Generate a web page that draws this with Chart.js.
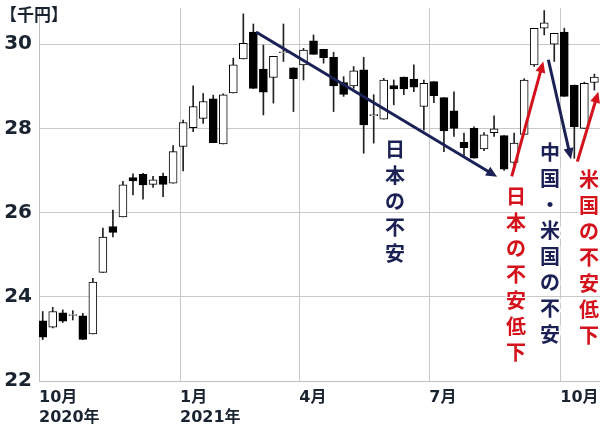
<!DOCTYPE html>
<html lang="ja">
<head>
<meta charset="UTF-8">
<title>週足チャート</title>
<script src="https://cdn.jsdelivr.net/npm/chart.js"></script>
<style>
  body { margin: 0; background: #fff; }
  #wrap { width: 600px; height: 430px; }
</style>
</head>
<body>
<div id="wrap"><canvas id="chart" width="600" height="430"></canvas></div>
<script>
// 週足の四本値（千円）、左から順に
const opens  = [23.43, 23.28, 23.62, 23.56, 23.55, 23.12, 24.58, 25.67, 25.90, 26.83,
                26.91, 26.67, 26.86, 26.70, 27.57, 28.02, 28.24, 28.70, 27.63, 28.84,
                29.65, 30.29, 29.41, 29.21, 29.80, 29.44, 29.51, 30.08, 29.88, 29.69,
                29.09, 29.01, 29.39, 28.30, 28.22, 29.02, 29.22, 29.17, 28.52, 29.11,
                28.73, 28.42, 27.67, 28.00, 27.51, 27.90, 27.83, 27.19, 27.86, 29.51,
                30.38, 30.00, 30.29, 29.03, 28.00, 29.09];
const highs  = [23.65, 23.75, 23.69, 23.67, 23.61, 24.44, 25.63, 26.06, 26.74, 26.92,
                26.93, 26.86, 26.94, 27.59, 28.20, 29.01, 28.83, 28.79, 28.82, 29.67,
                30.72, 30.48, 29.98, 29.71, 30.48, 29.44, 29.90, 30.22, 29.88, 29.81,
                29.23, 29.47, 29.69, 28.80, 29.19, 29.15, 29.22, 29.51, 29.15, 29.11,
                28.73, 28.87, 27.89, 28.04, 27.90, 28.30, 27.83, 27.89, 29.18, 30.38,
                30.80, 30.26, 30.38, 29.03, 29.10, 29.29];
const lows   = [22.98, 23.26, 23.39, 23.45, 22.98, 23.12, 24.58, 25.42, 25.90, 26.42,
                26.32, 26.60, 26.38, 26.70, 26.99, 27.92, 28.12, 27.66, 27.63, 28.84,
                29.65, 28.95, 28.32, 28.60, 29.59, 28.40, 29.15, 29.76, 29.55, 28.40,
                28.76, 28.95, 27.41, 27.65, 28.22, 28.56, 28.80, 28.87, 27.96, 28.61,
                27.45, 27.81, 27.33, 27.29, 27.47, 27.81, 27.00, 27.13, 27.86, 29.47,
                30.22, 29.59, 28.76, 27.29, 28.00, 28.91];
const closes = [23.04, 23.65, 23.42, 23.58, 22.99, 24.35, 25.42, 25.53, 26.66, 26.75,
                26.66, 26.78, 26.67, 27.45, 28.14, 28.52, 28.64, 27.66, 28.80, 29.51,
                30.02, 28.95, 28.86, 29.71, 29.82, 29.18, 29.86, 29.76, 29.68, 29.01,
                28.81, 29.37, 28.08, 28.33, 29.15, 28.94, 28.94, 28.98, 29.07, 28.78,
                27.94, 28.00, 27.54, 27.29, 27.85, 27.99, 27.03, 27.65, 29.15, 30.38,
                30.51, 30.26, 28.76, 28.04, 29.07, 29.22];

// 目盛り（x は足の番号）
const monthTicks  = [-0.37, 13.69, 25.58, 38.54, 51.6];
const monthLabels = ['10月', '1月', '4月', '7月', '10月'];
const yearLabels  = ['2020年', '2021年', '', '', ''];
const yTicks = [22, 24, 26, 28, 30];

const NAVY = '#1b2154';
const RED = '#d4121c';

// 矢印と注記（足の番号, 千円）
const arrowFrom  = [[21.27, 30.29], [46.76, 26.86], [50.41, 29.63], [53.3, 27.21]];
const arrowTo    = [[45.3, 26.85], [49.91, 29.59], [52.67, 27.27], [55.39, 28.87]];
const arrowColor = [NAVY, RED, NAVY, RED];
const noteText   = ['日本の不安', '日本の不安低下', '中国・米国の不安', '米国の不安低下'];
const noteAt     = [[35.12, 27.49], [47.19, 26.38], [50.58, 27.42], [54.47, 26.80]];
const noteColor  = [NAVY, RED, NAVY, RED];

const FONT = '"DejaVu Sans", "Noto Sans CJK JP", sans-serif';
const JP = '"Noto Sans CJK JP", sans-serif';

const bodies = opens.map((o, i) => ({ x: i, y: [o, closes[i]] }));
const wicks = lows.map((l, i) => ({ x: i, y: [l, highs[i]] }));
const bodyColors = opens.map((o, i) => closes[i] >= o ? '#ffffff' : '#000000');

const notesPlugin = {
  id: 'notes',
  afterDatasetsDraw(chart) {
    const { ctx, scales: { x, y } } = chart;
    ctx.save();
    // 矢印
    arrowFrom.forEach((p, i) => {
      const x1 = x.getPixelForValue(p[0]), y1 = y.getPixelForValue(p[1]);
      const x2 = x.getPixelForValue(arrowTo[i][0]), y2 = y.getPixelForValue(arrowTo[i][1]);
      const ang = Math.atan2(y2 - y1, x2 - x1);
      const head = 11;
      ctx.strokeStyle = arrowColor[i];
      ctx.fillStyle = arrowColor[i];
      ctx.lineWidth = 3;
      ctx.beginPath();
      ctx.moveTo(x1, y1);
      ctx.lineTo(x2 - Math.cos(ang) * head * 0.8, y2 - Math.sin(ang) * head * 0.8);
      ctx.stroke();
      ctx.beginPath();
      ctx.moveTo(x2, y2);
      ctx.lineTo(x2 - head * Math.cos(ang) + 5 * Math.sin(ang), y2 - head * Math.sin(ang) - 5 * Math.cos(ang));
      ctx.lineTo(x2 - head * Math.cos(ang) - 5 * Math.sin(ang), y2 - head * Math.sin(ang) + 5 * Math.cos(ang));
      ctx.closePath();
      ctx.fill();
    });
    // 縦書きの注記
    ctx.font = 'bold 20px ' + JP;
    ctx.textAlign = 'center';
    ctx.textBaseline = 'middle';
    ctx.lineJoin = 'round';
    noteText.forEach((t, i) => {
      const cx = x.getPixelForValue(noteAt[i][0]);
      const cy = y.getPixelForValue(noteAt[i][1]);
      [...t].forEach((ch, k) => {
        ctx.strokeStyle = 'rgba(255,255,255,0.9)';
        ctx.lineWidth = 4;
        ctx.strokeText(ch, cx, cy + k * 26);
        ctx.fillStyle = noteColor[i];
        ctx.fillText(ch, cx, cy + k * 26);
      });
    });
    // 単位
    ctx.font = 'bold 17px ' + JP;
    ctx.textAlign = 'left';
    ctx.fillStyle = '#1a2330';
    ctx.fillText('【千円】', 0, 15);
    ctx.restore();
  }
};

new Chart(document.getElementById('chart'), {
  type: 'bar',
  data: {
    datasets: [
      {
        label: 'ヒゲ',
        data: wicks,
        backgroundColor: '#222',
        borderWidth: 0,
        barThickness: 1,
        grouped: false,
        order: 2
      },
      {
        label: '実体',
        data: bodies,
        backgroundColor: bodyColors,
        borderColor: '#000',
        borderWidth: 1,
        borderSkipped: false,
        barThickness: 8,
        grouped: false,
        order: 1
      }
    ]
  },
  options: {
    responsive: false,
    animation: false,
    devicePixelRatio: 1,
    layout: { padding: { top: 8, right: 0, left: 0, bottom: 0 } },
    plugins: { legend: { display: false }, tooltip: { enabled: false } },
    scales: {
      x: {
        type: 'linear',
        offset: false,
        min: -0.37,
        max: 55.56,
        grid: { color: '#c8c8c8', drawTicks: false, offset: false },
        border: { color: '#c0c0c0' },
        afterBuildTicks: s => { s.ticks = monthTicks.map(v => ({ value: v })); },
        afterFit: s => { s.height = 49; s.paddingLeft = 0; s.paddingRight = 0; },
        ticks: {
          autoSkip: false,
          maxRotation: 0,
          align: 'start',
          padding: 7,
          color: '#1a2330',
          font: { family: FONT, size: 16, weight: 'bold', lineHeight: 1.25 },
          callback: (v, i) => yearLabels[i] ? [monthLabels[i], yearLabels[i]] : monthLabels[i]
        }
      },
      y: {
        min: 22,
        max: 30.86,
        grid: { color: '#c8c8c8', drawTicks: false },
        border: { color: '#c0c0c0' },
        afterBuildTicks: s => { s.ticks = yTicks.map(v => ({ value: v })); },
        afterFit: s => { s.width = 39; s.paddingTop = 0; s.paddingBottom = 0; },
        ticks: {
          padding: 7,
          color: '#1a2330',
          font: { family: FONT, size: 20, weight: 'bold' }
        }
      }
    }
  },
  plugins: [notesPlugin]
});
</script>
</body>
</html>
